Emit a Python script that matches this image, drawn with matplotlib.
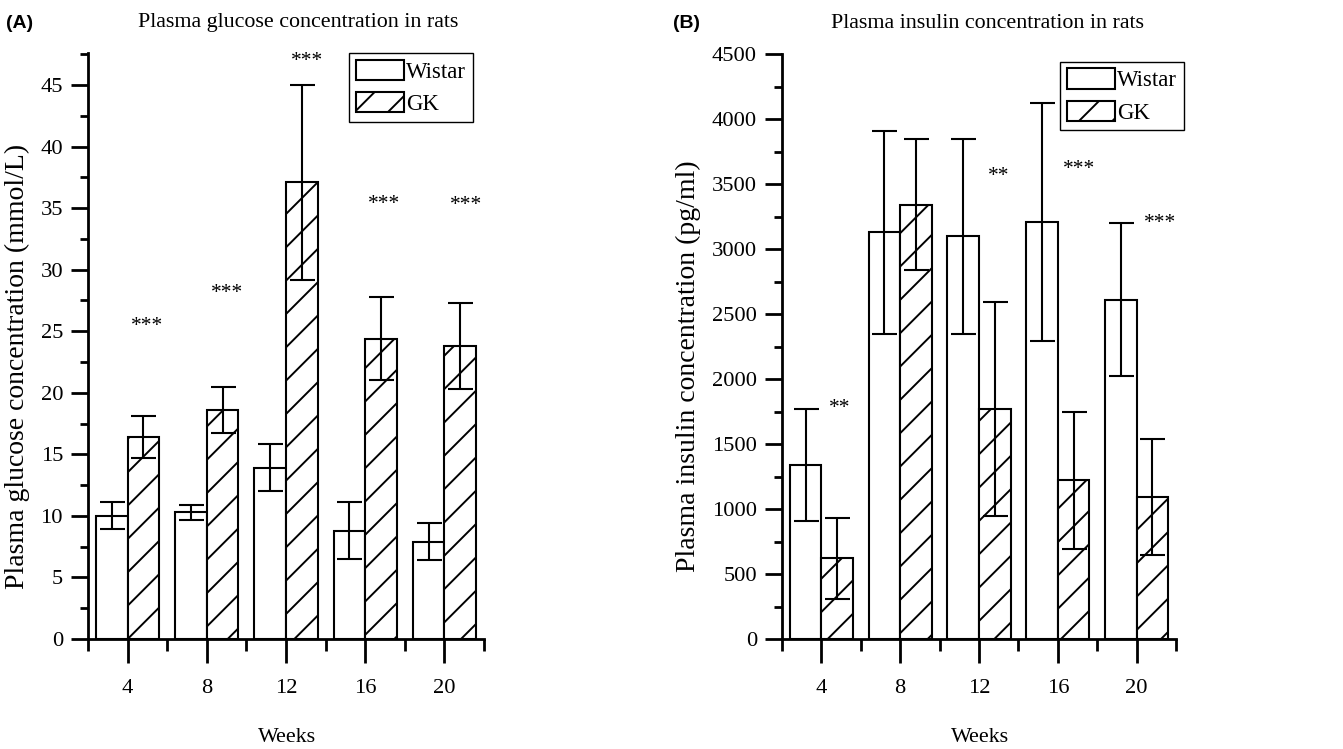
import matplotlib
matplotlib.use("Agg")
import matplotlib.pyplot as plt
from matplotlib.ticker import MultipleLocator, FixedLocator
import numpy as np

# values (mean, SD)
weeks = [4, 8, 12, 16, 20]
glu_wistar = [10.0, 10.3, 13.9, 8.8, 7.9]
glu_wistar_sd = [1.1, 0.6, 1.9, 2.3, 1.5]
glu_gk = [16.4, 18.6, 37.1, 24.4, 23.8]
glu_gk_sd = [1.7, 1.9, 7.9, 3.4, 3.5]
ins_wistar = [1340, 3130, 3100, 3210, 2610]
ins_wistar_sd = [430, 780, 750, 915, 590]
ins_gk = [620, 3340, 1770, 1220, 1090]
ins_gk_sd = [310, 505, 825, 525, 445]
glu_stars = ["***", "***", "***", "***", "***"]
ins_stars = ["**", "", "**", "***", "***"]

DPI = 100
W, H = 1343, 749
plt.rcParams['font.family'] = ['Liberation Serif', 'DejaVu Serif']
plt.rcParams['hatch.linewidth'] = 1.4
plt.rcParams['axes.linewidth'] = 2.0

fig = plt.figure(figsize=(W / DPI, H / DPI), dpi=DPI)


def px_axes(l, t, r, b):
    return fig.add_axes([l / W, 1 - b / H, (r - l) / W, (b - t) / H])


def draw_panel(ax, wis, wis_sd, gk, gk_sd, ymax, major, minor):
    x = np.array(weeks, dtype=float)
    kw = dict(width=1.6, align='edge', edgecolor='black', linewidth=1.5)
    ax.bar(x - 1.6, wis, facecolor='white', label='Wistar', **kw)
    ax.bar(x, gk, facecolor='white', hatch='/', label='GK', **kw)
    ekw = dict(fmt='none', ecolor='black', elinewidth=1.5, capsize=9, capthick=1.5)
    ax.errorbar(x - 0.8, wis, yerr=wis_sd, **ekw)
    ax.errorbar(x + 0.8, gk, yerr=gk_sd, **ekw)
    ax.set_xlim(2, 22)
    ax.set_ylim(0, ymax)
    for s in ['top', 'right']:
        ax.spines[s].set_visible(False)
    ax.xaxis.set_major_locator(FixedLocator(weeks))
    ax.xaxis.set_minor_locator(FixedLocator([2, 6, 10, 14, 18, 22]))
    ax.yaxis.set_major_locator(MultipleLocator(major))
    ax.yaxis.set_minor_locator(MultipleLocator(minor))
    ax.tick_params(axis='x', which='major', direction='out', length=17, width=2, pad=12, labelsize=16.2)
    ax.tick_params(axis='x', which='minor', direction='out', length=8.6, width=2)
    ax.tick_params(axis='y', which='major', direction='out', length=12, width=2, pad=6, labelsize=16.2)
    ax.tick_params(axis='y', which='minor', direction='out', length=6, width=2)


def add_legend(ax, anchor):
    leg = ax.legend(loc='upper right', bbox_to_anchor=anchor, fontsize=16.4,
                    fancybox=False, framealpha=1, edgecolor='black',
                    handlelength=2.1, handleheight=1.0, handletextpad=0.1,
                    labelspacing=0.4, borderpad=0.3, borderaxespad=0)
    leg.get_frame().set_linewidth(1.0)


# panel A
axA = px_axes(88, 53, 484, 639)
draw_panel(axA, glu_wistar, glu_wistar_sd, glu_gk, glu_gk_sd, 47.6, 5, 2.5)
add_legend(axA, (0.972, 1.0))
glu_star_pos = [(5.0, 25.4), (9.0, 28.1), (13.05, 46.9), (16.95, 35.3), (21.1, 35.2)]
for s, (sx, sy) in zip(glu_stars, glu_star_pos):
    axA.text(sx, sy, s, ha='center', va='center', fontsize=15.4)

# panel B
axB = px_axes(782, 54, 1176, 639)
draw_panel(axB, ins_wistar, ins_wistar_sd, ins_gk, ins_gk_sd, 4500, 500, 250)
add_legend(axB, (1.02, 0.987))
ins_star_pos = [(4.95, 1770), (8.9, 0), (13.0, 3560), (17.06, 3610), (21.2, 3200)]
for s, (sx, sy) in zip(ins_stars, ins_star_pos):
    if s:
        axB.text(sx, sy, s, ha='center', va='center', fontsize=15.4)


def ftext(x, y, s, **kw):
    fig.text(x / W, 1 - y / H, s, **kw)


ftext(298, 23, "Plasma glucose concentration in rats", ha='center', va='center', fontsize=15.8)
ftext(988, 23, "Plasma insulin concentration in rats", ha='center', va='center', fontsize=15.8)
ftext(6, 24, "(A)", ha='left', va='center', fontsize=14, fontweight='bold', family=['Liberation Sans'])
ftext(673, 24, "(B)", ha='left', va='center', fontsize=14, fontweight='bold', family=['Liberation Sans'])
ftext(17, 366, "Plasma glucose concentration (mmol/L)", ha='center', va='center', rotation=90, fontsize=20)
ftext(688, 366, "Plasma insulin concentration (pg/ml)", ha='center', va='center', rotation=90, fontsize=20)
ftext(287, 737, "Weeks", ha='center', va='center', fontsize=15.8)
ftext(980, 737, "Weeks", ha='center', va='center', fontsize=15.8)

fig.savefig("out.png", dpi=DPI)
